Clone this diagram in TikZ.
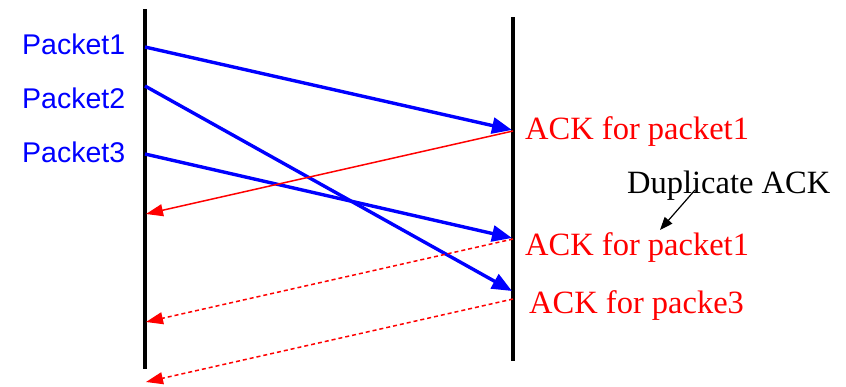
\documentclass[tikz,border=0pt]{standalone}
\usepackage{fontspec}
\setmainfont{Liberation Serif}
\newfontfamily\arialf{Liberation Sans}
\usetikzlibrary{arrows.meta}
\tikzset{
  lifeline/.style={line width=3.8pt, black},
  pkt/.style={line width=3.4pt, blue, -{Triangle[length=20pt,width=16pt]}},
  ack/.style={line width=1.5pt, red, -{Triangle[length=17pt,width=12pt]}},
  ackdot/.style={ack, dash pattern=on 4pt off 3pt},
  pktlabel/.style={anchor=base west, inner sep=0pt, text=blue, font=\arialf\fontsize{28.5}{30}\selectfont},
  acklabel/.style={anchor=base west, inner sep=0pt, text=red, font=\fontsize{32.5}{34}\selectfont},
  note/.style={anchor=base west, inner sep=0pt, text=black, font=\fontsize{32.5}{34}\selectfont},
  notearrow/.style={line width=1.2pt, black, -{Triangle[length=13pt,width=10pt]}}
}
\begin{document}
\begin{tikzpicture}[x=1pt,y=-1pt]
\useasboundingbox (0,0) rectangle (846,386);
% lifelines
\coordinate (LT) at (145,9);
\coordinate (LB) at (145,369);
\coordinate (RT) at (513,17);
\coordinate (RB) at (513,361);
\draw[lifeline] (LT) -- (LB);
\draw[lifeline] (RT) -- (RB);
% packet endpoints
\coordinate (p1s) at (145,47);
\coordinate (p2s) at (145,86);
\coordinate (p3s) at (145,154);
\coordinate (p1e) at (512,130);
\coordinate (p2e) at (512,291);
\coordinate (p3e) at (512,238);
% ack endpoints
\coordinate (a1s) at (513,131);
\coordinate (a1e) at (146,214);
\coordinate (a2s) at (513,239);
\coordinate (a2e) at (146,322);
\coordinate (a3s) at (513,299);
\coordinate (a3e) at (146,382);
% labels
\node[pktlabel] (P1) at (22,54) {Packet1};
\node[pktlabel] (P2) at (22,108) {Packet2};
\node[pktlabel] (P3) at (22,162) {Packet3};
\node[acklabel] (A1) at (525,139) {ACK for packet1};
\node[acklabel] (A2) at (525,255) {ACK for packet1};
\node[acklabel] (A3) at (529,313) {ACK for packe3};
\node[note] (D) at (627,193) {Duplicate ACK};
% packets
\draw[pkt] (p1s) -- (p1e);
\draw[pkt] (p2s) -- (p2e);
\draw[pkt] (p3s) -- (p3e);
% acks
\draw[ack] (a1s) -- (a1e);
\draw[ackdot] (a2s) -- (a2e);
\draw[ackdot] (a3s) -- (a3e);
% note arrow
\coordinate (n1) at (695,190);
\coordinate (n2) at (660,230);
\draw[notearrow] (n1) -- (n2);
\end{tikzpicture}
\end{document}
